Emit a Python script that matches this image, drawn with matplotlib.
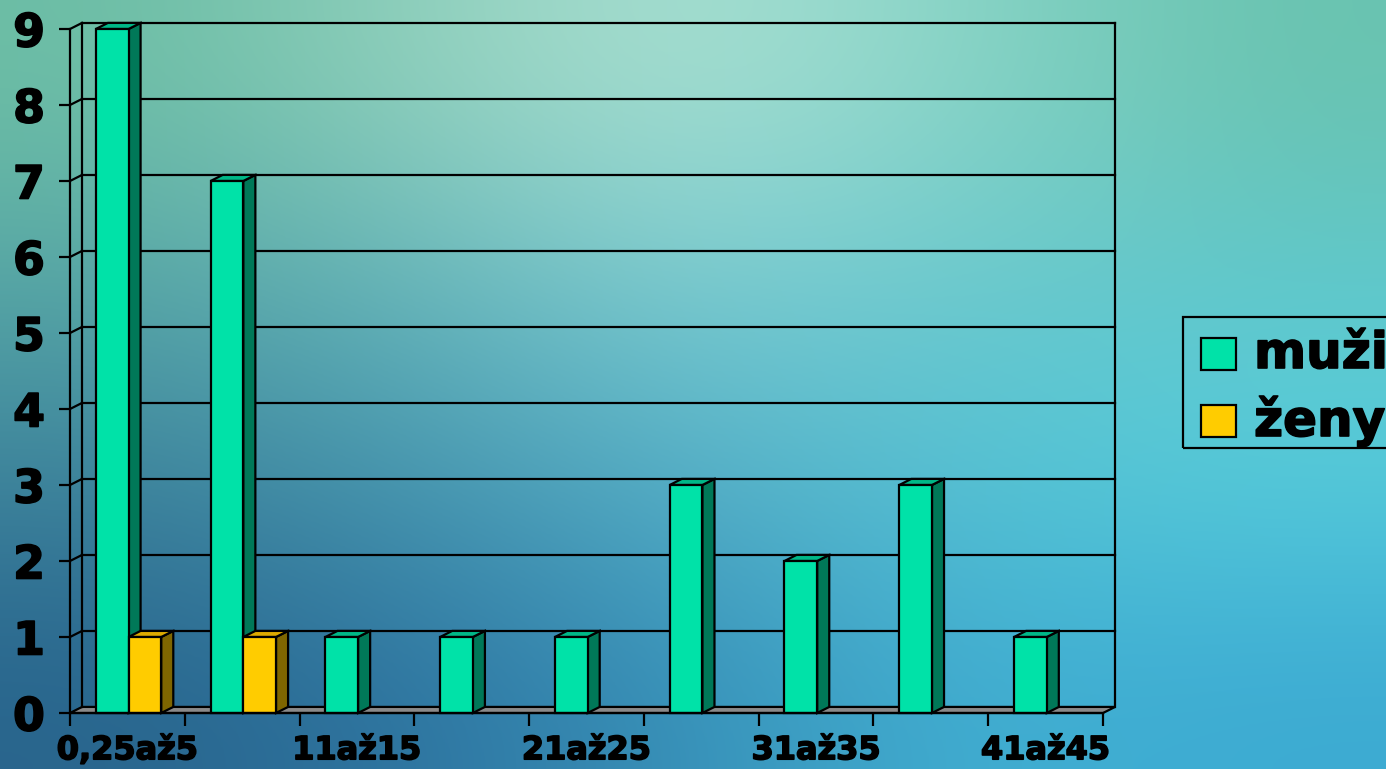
import numpy as np
import matplotlib.pyplot as plt
import matplotlib.patheffects as pe
from matplotlib.patches import Polygon, Rectangle

# vek (roky) a pocty
kategorie = ['0,25až5', '6až10', '11až15', '16až20', '21až25',
             '26až30', '31až35', '36až40', '41až45']
muzi = [9, 7, 1, 1, 1, 3, 2, 3, 1]
zeny = [1, 1, 0, 0, 0, 0, 0, 0, 0]

W, H = 1386, 769
fig = plt.figure(figsize=(W / 100, H / 100), dpi=100)

# pozadi - barevny prechod
bg = fig.add_axes([0, 0, 1, 1], zorder=-1)
barvy = np.array([
    [[108, 190, 165], [145, 208, 188], [172, 225, 212], [135, 212, 198], [105, 195, 175]],
    [[85, 165, 165], [100, 180, 185], [125, 205, 210], [105, 200, 205], [95, 200, 205]],
    [[60, 130, 155], [70, 150, 175], [85, 175, 200], [85, 195, 212], [85, 205, 220]],
    [[40, 100, 140], [45, 115, 160], [55, 145, 185], [65, 175, 210], [60, 170, 210]],
]) / 255
bg.imshow(barvy, aspect='auto', interpolation='bicubic', extent=[0, 1, 0, 1])
bg.set_xlim(0, 1)
bg.set_ylim(0, 1)
bg.axis('off')

ax = fig.add_axes([70 / W, (H - 713) / H, 1033 / W, 684 / H])
ax.patch.set_alpha(0)
ax.set_xlim(0, 9)
ax.set_ylim(0, 9)

# hloubka 3D efektu
dx, dy = 0.105, 0.08
lw = 1.6
tucne = [pe.withStroke(linewidth=1.2, foreground='black')]

# podlaha
ax.add_patch(Polygon([(0, 0), (9, 0), (9 + dx, dy), (dx, dy)], closed=True,
                     facecolor='#8a8a8a', edgecolor='black', lw=lw, clip_on=False, zorder=1))
# zadni stena - mrizka
for y in range(1, 10):
    ax.plot([dx, 9 + dx], [y + dy, y + dy], color='black', lw=lw, clip_on=False, zorder=1)
    ax.plot([0, dx], [y, y + dy], color='black', lw=lw, clip_on=False, zorder=1)
ax.plot([dx, dx], [dy, 9 + dy], color='black', lw=lw, clip_on=False, zorder=1)
ax.plot([9 + dx, 9 + dx], [dy, 9 + dy], color='black', lw=lw, clip_on=False, zorder=1)


def sloupec(x, h, w, predni, bok, vrch):
    if h <= 0:
        return
    ax.add_patch(Polygon([(x + w, 0), (x + w + dx, dy), (x + w + dx, h + dy), (x + w, h)],
                         closed=True, facecolor=bok, edgecolor='black', lw=lw,
                         clip_on=False, zorder=3))
    ax.add_patch(Polygon([(x, h), (x + dx, h + dy), (x + w + dx, h + dy), (x + w, h)],
                         closed=True, facecolor=vrch, edgecolor='black', lw=lw,
                         clip_on=False, zorder=3))
    ax.add_patch(Rectangle((x, 0), w, h, facecolor=predni, edgecolor='black', lw=lw,
                           clip_on=False, zorder=4))


sirka = 0.285
for i in range(len(kategorie)):
    sloupec(i + 0.225, muzi[i], sirka, '#00e2a8', '#007858', '#00b888')
    sloupec(i + 0.225 + sirka, zeny[i], sirka, '#ffcc00', '#7f6600', '#ddaa00')

for s in ['top', 'right']:
    ax.spines[s].set_visible(False)
for s in ['left', 'bottom']:
    ax.spines[s].set_linewidth(lw)
    ax.spines[s].set_zorder(5)

ax.set_yticks(range(10))
ax.set_yticklabels([str(v) for v in range(10)], fontsize=33, fontweight='bold')
ax.tick_params(axis='y', direction='out', length=8, width=lw, pad=10)

ax.set_xticks(range(10))
ax.set_xticklabels([])
ax.set_xticks(np.arange(0.5, 9, 2), minor=True)
ax.set_xticklabels(kategorie[::2], minor=True, fontsize=23, fontweight='bold')
ax.tick_params(axis='x', which='major', direction='out', length=9, width=lw)
ax.tick_params(axis='x', which='minor', length=0, pad=16)
for t in ax.get_yticklabels() + ax.get_xticklabels(minor=True):
    t.set_path_effects(tucne)

# legenda
fig.patches.append(Rectangle((1183 / W, 1 - 448 / H), 0.3, 131 / H, transform=fig.transFigure,
                             facecolor='none', edgecolor='black', lw=lw))
for j, (nazev, barva) in enumerate([('muži', '#00e2a8'), ('ženy', '#ffcc00')]):
    yc = 1 - (354 + j * 67) / H
    fig.patches.append(Rectangle((1201 / W, yc - 16 / H), 35 / W, 32 / H,
                                 transform=fig.transFigure, facecolor=barva,
                                 edgecolor='black', lw=lw))
    fig.text(1254 / W, yc, nazev, fontsize=36, fontweight='bold', va='center', ha='left',
             path_effects=tucne)

fig.savefig('out.png', dpi=100)
